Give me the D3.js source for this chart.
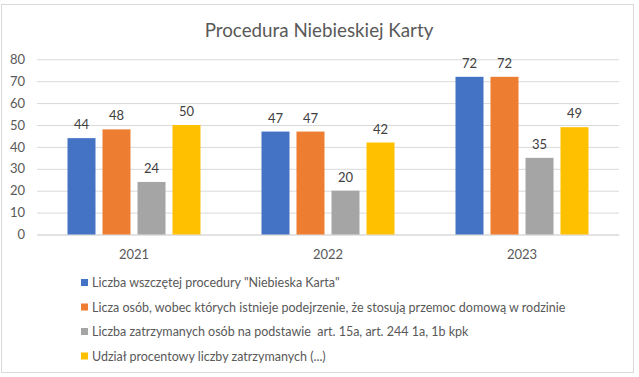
<!DOCTYPE html>
<html><head><meta charset="utf-8">
<script src="https://cdn.jsdelivr.net/npm/d3@7"></script>
<style>body{margin:0;background:#fff;} svg{display:block;font-family:Lato, "Open Sans", sans-serif;} .lgt{white-space:pre;}</style>
</head><body><svg id="c" width="639" height="377"></svg>
<script>
const categories = ["2021", "2022", "2023"];
const seriesNames = [
  "Liczba wszczętej procedury \"Niebieska Karta\"",
  "Licza osób, wobec których istnieje podejrzenie, że stosują przemoc domową w rodzinie",
  "Liczba zatrzymanych osób na podstawie  art. 15a, art. 244 1a, 1b kpk",
  "Udział procentowy liczby zatrzymanych (...)"
];
const s1 = [44, 47, 72];
const s2 = [48, 47, 72];
const s3 = [24, 20, 35];
const s4 = [50, 42, 49];
const yTicks = [0, 10, 20, 30, 40, 50, 60, 70, 80];
const colors = ["#4472C4", "#ED7D31", "#A5A5A5", "#FFC000"];
const series = [s1, s2, s3, s4];

const svg = d3.select("#c");
svg.append("rect").attr("x", 1.5).attr("y", 4.5).attr("width", 632).attr("height", 368)
  .attr("fill", "#fff").attr("stroke", "#d9d9d9");

const L = 37, R = 619, T = 59.3, B = 234.5;
const x = d3.scaleBand().domain(categories).range([L, R]);
const y = d3.scaleLinear().domain([0, 80]).range([B, T]);
const bw = x.bandwidth();
const barW = bw * 28 / 194, step = bw * 35 / 194;

svg.append("text").attr("x", 319).attr("y", 37).attr("text-anchor", "middle")
  .attr("font-size", 18.8).attr("fill", "#595959").text("Procedura Niebieskiej Karty");

const yAxis = d3.axisLeft(y).tickValues(yTicks).tickSize(-(R - L)).tickPadding(12);
const gy = svg.append("g").attr("transform", `translate(${L},0)`).call(yAxis);
gy.select(".domain").remove();
gy.selectAll(".tick line").attr("stroke", "#d9d9d9");
gy.selectAll(".tick text").attr("fill", "#595959").attr("font-size", 13).attr("font-family", "Lato, sans-serif");

const xAxis = d3.axisBottom(x).tickSize(0).tickPadding(15);
const gx = svg.append("g").attr("transform", `translate(0,${B})`).call(xAxis);
gx.select(".domain").attr("stroke", "#d9d9d9");
gx.selectAll(".tick text").attr("fill", "#595959").attr("font-size", 13).attr("font-family", "Lato, sans-serif");

const groupW = step * 3 + barW;
series.forEach((vals, si) => {
  const g = svg.append("g");
  g.selectAll("rect").data(vals).join("rect")
    .attr("x", (d, i) => x(categories[i]) + (bw - groupW) / 2 + si * step)
    .attr("y", d => y(d)).attr("width", barW).attr("height", d => B - y(d))
    .attr("fill", colors[si]);
  g.selectAll("text").data(vals).join("text")
    .attr("x", (d, i) => x(categories[i]) + (bw - groupW) / 2 + si * step + barW / 2)
    .attr("y", d => y(d) - 9).attr("text-anchor", "middle")
    .attr("font-size", 13).attr("fill", "#404040").text(d => d);
});

const lg = svg.append("g");
seriesNames.forEach((n, i) => {
  const yy = 282.5 + i * 24.5;
  lg.append("rect").attr("x", 81).attr("y", yy - 3.5).attr("width", 7).attr("height", 7).attr("fill", colors[i]);
  lg.append("text").attr("class", "lgt").attr("x", 92).attr("y", yy + 4.5).attr("font-size", 12.5).attr("fill", "#595959").text(n);
});
</script></body></html>
